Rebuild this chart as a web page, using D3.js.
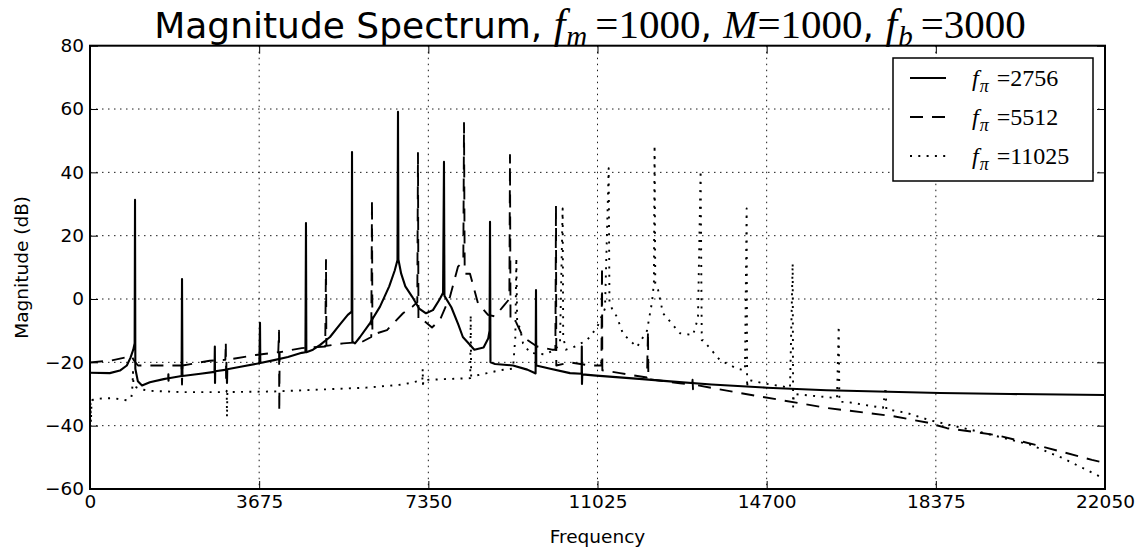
<!DOCTYPE html>
<html>
<head>
<meta charset="utf-8">
<script src="https://cdn.jsdelivr.net/npm/d3@7/dist/d3.min.js"></script>
<style>
  html, body { margin: 0; padding: 0; background: #fff; }
  svg { display: block; }
</style>
</head>
<body>
<svg id="chart" width="1147" height="550"></svg>
<script>
// Axis ticks
const xTicks = [0, 3675, 7350, 11025, 14700, 18375, 22050];
const yTicks = [-60, -40, -20, 0, 20, 40, 60, 80];

// Spectrum for f_pi = 2756 (solid), [frequency Hz, magnitude dB]
const fpi2756 = [
  [0,-23.3],[430,-23.4],[650,-22.6],[800,-21],[880,-18.5],[940,-16],[970,-14],
  [978,31.3],[985,-22],[1040,-26],[1130,-27.3],[1300,-26.3],[1600,-25.3],
  [1700,-25],[1703,-23.8],[1706,-25.8],[1709,-25],
  [1990,-24.3],[1999,6.3],[2008,-24.3],[2400,-23.6],[2705,-23],[2712,-15],[2716,-26.5],[2720,-22.8],
  [2970,-22.3],[2976,-26.5],[2982,-22.2],[3300,-21.3],[3680,-20.3],[3693,-7.5],[3700,-20.2],
  [4000,-19.3],[4300,-18.3],[4600,-17],[4680,-16.8],[4692,24],[4700,-16.8],[4844,-16],
  [5000,-14.5],[5214,-12],[5431,-8],[5600,-5],[5685,-4],[5692,46.4],[5700,-13.5],[5757,-14],
  [5866,-12],[6083,-7.6],[6300,-2.4],[6500,4],[6620,9],[6680,12.3],[6691,59.1],[6700,12.5],
  [6760,8],[6850,4],[7000,0.7],[7150,-3],[7300,-4.5],[7450,-3.5],[7600,0],[7670,2],
  [7690,43.3],[7700,1],[7850,-2.6],[8000,-8],[8100,-12],[8350,-16],[8550,-15.3],[8650,-12.5],
  [8680,-10],[8690,24.4],[8700,-20],[8800,-20.5],[9189,-21],[9500,-22.3],[9650,-23.3],
  [9680,-23.5],[9689,2.8],[9695,-21],[10000,-22],[10428,-23.4],[10680,-23.6],[10684,-15],
  [10688,-26.8],[10694,-23.8],[11000,-24.2],[12000,-25.3],[12600,-26],[13500,-27],
  [14707,-28],[16000,-28.8],[18465,-29.7],[20000,-30],[22050,-30.3]
];

// Spectrum for f_pi = 5512 (dashed)
const fpi5512 = [
  [0,-20],[434,-19.5],[760,-18.5],[900,-18],[960,-19.5],[1043,-21],[1300,-21],[1990,-21],
  [1999,-27],[2008,-21],[2600,-19.5],[2940,-19.2],[2950,-13.6],[2958,-26],[2965,-19.2],
  [3600,-17.7],[4090,-16.8],[4106,-10],[4112,-35.6],[4120,-16.8],[4600,-15.5],[5110,-15],
  [5127,12.3],[5135,-14.8],[5500,-14],[5900,-13.6],[6110,-12],[6126,31.3],[6135,-10.8],
  [6235,-10.8],[6452,-9.8],[6800,-4.5],[7000,-2.5],[7110,-1],[7125,46.1],[7135,-6.6],
  [7234,-6.6],[7430,-9],[7603,-6.6],[7820,0.7],[7994,10.2],[8110,12],[8125,55.6],[8140,8],
  [8255,8],[8429,-1.4],[8646,-5],[8798,-5.5],[8972,-2.4],[9110,0],[9124,45.5],[9135,-6.6],
  [9233,-6.6],[9407,-12],[9711,-15],[10036,-16],[10110,-16],[10123,29.7],[10130,-21],
  [10428,-20],[10862,-21],[11110,-21],[11123,10.2],[11130,-22.5],[11514,-23.4],[12100,-24.8],
  [12122,-10],[12130,-25.3],[12817,-26.6],[13080,-27],[13090,-25.5],[13100,-28.5],[13110,-27],
  [14121,-29.7],[16011,-34.4],[17444,-37],[18183,-39],[18618,-40.8],[19704,-43],
  [20790,-47],[21767,-50.8],[22050,-51.8]
];

// Spectrum for f_pi = 11025 (dotted)
const fpi11025 = [
  [0,-41],[10,-33],[20,-39],[30,-34],[45,-32],[100,-31.5],[500,-31.3],[800,-32],[900,-31],
  [925,-27],[934,-23],[945,-27.5],[1100,-28.5],[1300,-29],[2000,-29.4],[2960,-29.4],
  [2970,-29],[2976,-37.3],[2984,-29.4],[4000,-29.2],[5000,-28.6],[6000,-28],[6800,-27],
  [7220,-25.6],[7228,-22],[7234,-28],[7240,-25.6],[7700,-25.3],[8260,-25],[8270,-5],
  [8280,-24.5],[8600,-23.5],[8907,-22.5],[9189,-22],[9240,-12],[9262,13],[9280,-8],
  [9341,-9],[9407,-14],[9559,-17],[9885,-17.5],[10102,-16],[10210,-14],[10268,28.6],
  [10280,-12],[10340,-16],[10536,-15],[10797,-13],[11014,-9],[11188,-3],[11268,41.3],
  [11285,-1.4],[11340,-3],[11449,-5.7],[11579,-11],[11883,-15.2],[12100,-10],[12209,-1],
  [12250,5],[12265,48.6],[12280,5],[12339,3],[12448,-4.5],[12817,-10.8],[13100,-11.4],
  [13208,-6],[13265,40.6],[13290,-13],[13317,-13],[13686,-19.3],[14055,-22],[14229,-22.5],
  [14265,28.6],[14275,-28],[14290,-25.5],[14620,-26.6],[15207,-28],[15265,11.3],[15275,-34],
  [15290,-30],[16228,-31.3],[16265,-8.5],[16280,-32.5],[16445,-32.5],[17227,-34.4],
  [17285,-27.8],[17300,-34.8],[17749,-36],[18248,-38.3],[19335,-42],[20421,-46],
  [21138,-50.3],[21877,-55.6],[22050,-57]
];

const seriesLabels = ["2756", "5512", "11025"];

const sans = "'DejaVu Sans', sans-serif";
const serif = "'Liberation Serif', 'DejaVu Serif', serif";

const svg = d3.select("#chart");
const margin = { left: 90, right: 42, top: 45.7, bottom: 61 };
const W = 1147, H = 550;
const x0 = margin.left, x1 = W - margin.right;
const y0 = margin.top, y1 = H - margin.bottom;

const x = d3.scaleLinear().domain([0, 22050]).range([x0, x1]);
const y = d3.scaleLinear().domain([-60, 80]).range([y1, y0]);

// Dotted grid
const grid = svg.append("g");
grid.selectAll("line.gx").data(xTicks.slice(1, -1)).enter().append("line")
  .attr("x1", d => x(d)).attr("x2", d => x(d)).attr("y1", y0).attr("y2", y1)
  .attr("stroke", "#000").attr("stroke-width", 0.9).attr("stroke-dasharray", "1.5,4.5");
grid.selectAll("line.gy").data(yTicks.slice(1, -1)).enter().append("line")
  .attr("x1", x0).attr("x2", x1).attr("y1", d => y(d)).attr("y2", d => y(d))
  .attr("stroke", "#000").attr("stroke-width", 0.9).attr("stroke-dasharray", "1.5,4.5");

// Series
svg.append("clipPath").attr("id", "plotclip").append("rect")
  .attr("x", x0).attr("y", y0).attr("width", x1 - x0).attr("height", y1 - y0);

const line = d3.line().x(d => x(d[0])).y(d => y(d[1]));
const styles = [
  { data: fpi2756, dash: null, width: 2.1 },
  { data: fpi5512, dash: "13,9", width: 1.9 },
  { data: fpi11025, dash: "2,6.3", width: 1.9 }
];
const plot = svg.append("g").attr("clip-path", "url(#plotclip)");
styles.forEach(s => {
  plot.append("path").datum(s.data)
    .attr("d", line)
    .attr("fill", "none")
    .attr("stroke", "#000")
    .attr("stroke-width", s.width)
    .attr("stroke-linejoin", "round")
    .attr("stroke-dasharray", s.dash);
});

// Axes (ticks inside on all four sides)
const fmt = d => d < 0 ? "\u2212" + Math.abs(d) : String(d);
const tickLen = 8;
const axB = svg.append("g").attr("transform", `translate(0,${y1})`)
  .call(d3.axisBottom(x).tickValues(xTicks).tickFormat(fmt).tickSizeInner(-tickLen).tickSizeOuter(0).tickPadding(6));
const axT = svg.append("g").attr("transform", `translate(0,${y0})`)
  .call(d3.axisTop(x).tickValues(xTicks).tickFormat("").tickSizeInner(-tickLen).tickSizeOuter(0));
const axL = svg.append("g").attr("transform", `translate(${x0},0)`)
  .call(d3.axisLeft(y).tickValues(yTicks).tickFormat(fmt).tickSizeInner(-tickLen).tickSizeOuter(0).tickPadding(6));
const axR = svg.append("g").attr("transform", `translate(${x1},0)`)
  .call(d3.axisRight(y).tickValues(yTicks).tickFormat("").tickSizeInner(-tickLen).tickSizeOuter(0));

[axB, axT, axL, axR].forEach(a => {
  a.select(".domain").remove();
  a.selectAll(".tick line").attr("stroke", "#000").attr("stroke-width", 1);
  a.selectAll("text").attr("font-family", sans).attr("font-size", 18.5).attr("fill", "#000");
});

// Frame
svg.append("rect").attr("x", x0).attr("y", y0).attr("width", x1 - x0).attr("height", y1 - y0)
  .attr("fill", "none").attr("stroke", "#000").attr("stroke-width", 2);

// Axis titles
svg.append("text").attr("x", (x0 + x1) / 2).attr("y", 543)
  .attr("text-anchor", "middle").attr("font-family", sans).attr("font-size", 18.5)
  .text("Frequency");
svg.append("text").attr("transform", `translate(28,${(y0 + y1) / 2}) rotate(-90)`)
  .attr("text-anchor", "middle").attr("font-family", sans).attr("font-size", 18.5)
  .text("Magnitude (dB)");

// Title
const title = svg.append("text").attr("x", 590).attr("y", 38)
  .attr("text-anchor", "middle").attr("font-size", 36).attr("font-family", sans);
title.append("tspan").text("Magnitude Spectrum, ");
title.append("tspan").attr("font-family", serif).attr("font-style", "italic").attr("font-size", 42).text("f");
title.append("tspan").attr("font-family", serif).attr("font-style", "italic").attr("font-size", 29).attr("dy", 8).attr("dx", 1).text("m");
title.append("tspan").attr("font-family", serif).attr("font-size", 41).attr("dy", -8).attr("dx", 8).text("=1000");
title.append("tspan").text(", ");
title.append("tspan").attr("font-family", serif).attr("font-style", "italic").attr("font-size", 41).text("M");
title.append("tspan").attr("font-family", serif).attr("font-size", 41).text("=1000");
title.append("tspan").text(", ");
title.append("tspan").attr("font-family", serif).attr("font-style", "italic").attr("font-size", 42).text("f");
title.append("tspan").attr("font-family", serif).attr("font-style", "italic").attr("font-size", 29).attr("dy", 8).attr("dx", 1).text("b");
title.append("tspan").attr("font-family", serif).attr("font-size", 41).attr("dy", -8).attr("dx", 8).text("=3000");

// Legend
const lg = svg.append("g");
lg.append("rect").attr("x", 893).attr("y", 58).attr("width", 200).attr("height", 123)
  .attr("fill", "#fff").attr("stroke", "#000").attr("stroke-width", 1.5);
const rowY = [78, 117, 156];
styles.forEach((s, i) => {
  lg.append("line").attr("x1", 910).attr("x2", 946).attr("y1", rowY[i]).attr("y2", rowY[i])
    .attr("stroke", "#000").attr("stroke-width", s.width).attr("stroke-dasharray", s.dash);
  const t = lg.append("text").attr("x", 972).attr("y", rowY[i] + 8)
    .attr("font-family", serif).attr("font-size", 24);
  t.append("tspan").attr("font-style", "italic").text("f");
  t.append("tspan").attr("font-style", "italic").attr("font-size", 18).attr("dy", 6).attr("dx", 1).text("\u03c0");
  t.append("tspan").attr("dy", -6).attr("dx", 8).text("=" + seriesLabels[i]);
});
</script>
</body>
</html>
